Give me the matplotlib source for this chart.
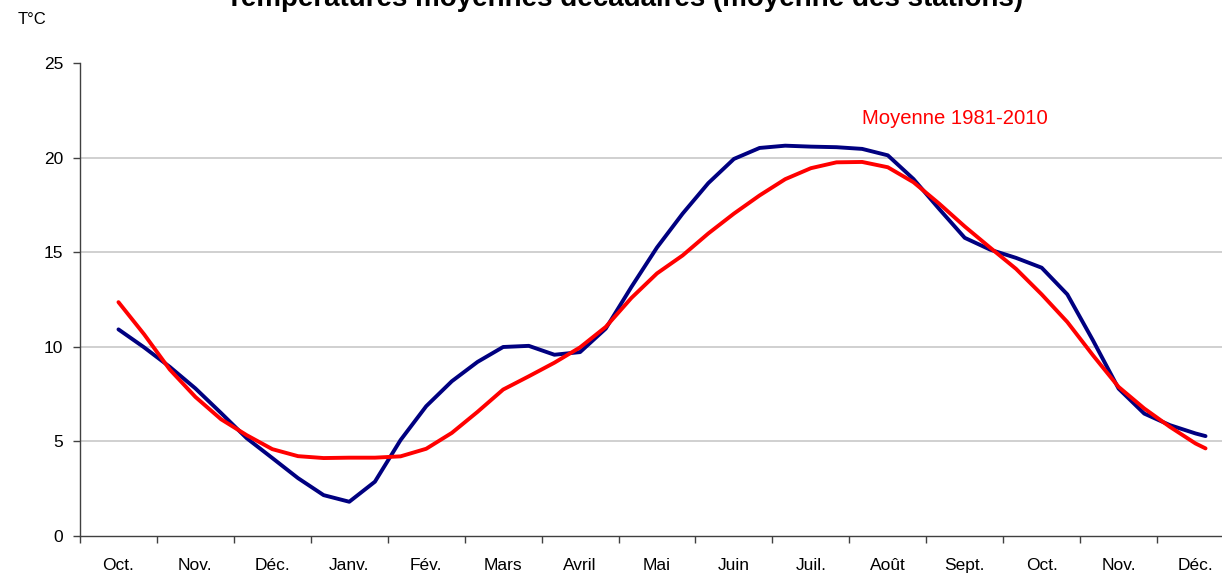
import numpy as np
import matplotlib
matplotlib.use("Agg")
import matplotlib.pyplot as plt
from matplotlib.ticker import FixedLocator, NullFormatter

plt.rcParams["font.family"] = ["Liberation Sans", "DejaVu Sans"]

W, H = 1222, 578

# month labels (one category per month, Oct. -> Déc. of the following year)
months = ["Oct.", "Nov.", "Déc.", "Janv.", "Fév.", "Mars", "Avril", "Mai",
          "Juin", "Juil.", "Août", "Sept.", "Oct.", "Nov.", "Déc."]

# position of each value, in months from the start of the first October
positions = list(np.arange(0.5, 14.51, 1 / 3)) + [14.63]

# mean temperature of the period (stations average)
temp_year = [10.92, 9.97, 8.94, 7.80, 6.50, 5.17, 4.12, 3.06, 2.16, 1.81,
             2.87, 5.07, 6.86, 8.18, 9.20, 9.99, 10.05, 9.58, 9.72, 10.96,
             13.16, 15.25, 17.04, 18.65, 19.93, 20.51, 20.63, 20.58, 20.55, 20.46,
             20.12, 18.87, 17.29, 15.76, 15.13, 14.70, 14.18, 12.77, 10.34, 7.79,
             6.47, 5.86, 5.42, 5.28]

# 1981-2010 normal
temp_normal = [12.36, 10.66, 8.80, 7.35, 6.17, 5.33, 4.59, 4.22, 4.12, 4.14,
               4.14, 4.21, 4.61, 5.45, 6.56, 7.74, 8.44, 9.16, 9.97, 11.05,
               12.58, 13.88, 14.83, 15.99, 17.04, 18.00, 18.86, 19.44, 19.75, 19.77,
               19.49, 18.70, 17.57, 16.36, 15.23, 14.12, 12.77, 11.31, 9.55, 7.88,
               6.74, 5.77, 4.89, 4.63]

y_ticks = [0, 5, 10, 15, 20, 25]

fig = plt.figure(figsize=(W / 100, H / 100), dpi=100)
fig.patch.set_facecolor("white")

# the plot area runs a little past the right edge of the picture
left, right, bottom, top = 80, 1234, 536, 63
ax = fig.add_axes([left / W, 1 - bottom / H, (right - left) / W, (bottom - top) / H])
ax.set_facecolor("white")

for val in y_ticks[1:-1]:
    ax.axhline(val, color="#C8C8C8", linewidth=1.2, zorder=1)

ax.plot(positions, temp_year, color="#000080", linewidth=2.8,
        solid_joinstyle="round", solid_capstyle="round", zorder=3)
ax.plot(positions, temp_normal, color="#FF0000", linewidth=2.8,
        solid_joinstyle="round", solid_capstyle="round", zorder=4)

ax.set_xlim(0, len(months))
ax.set_ylim(0, 25)

ax.xaxis.set_major_locator(FixedLocator(np.arange(0, len(months))))
ax.xaxis.set_major_formatter(NullFormatter())
ax.xaxis.set_minor_locator(FixedLocator(np.arange(len(months)) + 0.5))
ax.set_xticklabels(months, minor=True)
ax.tick_params(axis="x", which="major", length=5, width=1, color="#404040",
               direction="out")
ax.tick_params(axis="x", which="minor", length=0, labelsize=12.5, pad=16,
               labelcolor="black")

ax.set_yticks(y_ticks)
ax.tick_params(axis="y", length=5, width=1, color="#404040", labelsize=12.5,
               pad=7, labelcolor="black")

for name in ("top", "right"):
    ax.spines[name].set_visible(False)
ax.spines["left"].set_color("#404040")
ax.spines["bottom"].set_color("#404040")
ax.spines["left"].set_linewidth(1)
ax.spines["bottom"].set_linewidth(1)

ax.text(862 / W, 1 - 118 / H, "Moyenne 1981-2010", transform=fig.transFigure,
        color="#FF0000", fontsize=14.6, ha="left", va="center")

fig.text(18 / W, 1 - 19 / H, "T°C", fontsize=12, ha="left", va="center")

# title, partly cut off at the top edge as in the source
fig.text(625 / W, 1 - 6 / H,
         "Températures moyennes décadaires (moyenne des stations)",
         fontsize=20, fontweight="bold", ha="center", va="baseline")

fig.savefig("out.png", dpi=100, facecolor="white")
